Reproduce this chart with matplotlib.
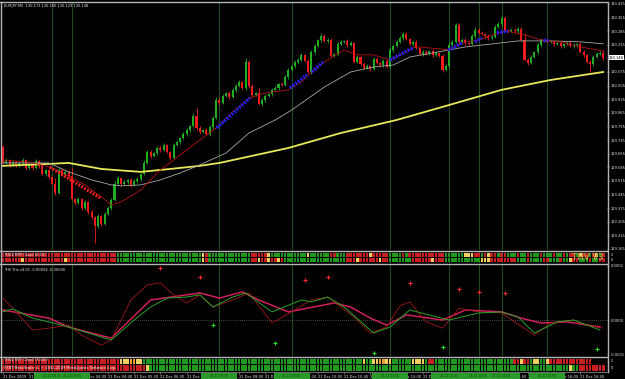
import matplotlib
matplotlib.use('Agg')
import matplotlib.pyplot as plt
from matplotlib.patches import Rectangle
import numpy as np

W, H = 625, 379
fig = plt.figure(figsize=(6.25, 3.79), dpi=100, facecolor='black')

def ax_at(x0, y0, x1, y1):
    a = fig.add_axes([x0 / W, 1 - y1 / H, (x1 - x0) / W, (y1 - y0) / H])
    a.set_facecolor('black')
    for s in a.spines.values():
        s.set_visible(False)
    a.tick_params(left=False, bottom=False, labelleft=False, labelbottom=False)
    return a

# ---------------- data ----------------
symbol_text = "EURJPY,M5  130.173 130.180 130.129 130.148"
first_open = 129.689
closes = [
 129.607,129.622,129.597,129.612,129.592,129.607,129.622,129.581,129.597,129.581,
 129.617,129.592,129.550,129.571,129.535,129.499,129.453,129.571,129.545,129.561,
 129.540,129.422,129.401,129.422,129.375,129.406,129.355,129.329,129.283,129.334,
 129.293,129.345,129.375,129.417,129.499,129.530,129.499,129.509,129.520,129.494,
 129.514,129.525,129.550,129.607,129.664,129.643,129.658,129.684,129.674,129.700,
 129.664,129.633,129.700,129.715,129.736,129.756,129.777,129.797,129.849,129.787,
 129.767,129.777,129.756,129.792,129.839,129.931,129.916,129.952,129.967,129.947,
 129.983,130.003,130.024,129.993,130.127,130.003,129.957,129.967,129.911,129.931,
 129.952,129.962,129.983,129.993,130.014,130.009,130.050,130.086,130.106,130.127,
 130.137,130.163,130.132,130.075,130.178,130.209,130.240,130.261,130.235,130.240,
 130.158,130.168,130.220,130.230,130.235,130.214,130.225,130.127,130.153,130.117,
 130.096,130.106,130.091,130.142,130.122,130.111,130.132,130.101,130.189,130.209,
 130.230,130.250,130.271,130.245,130.220,130.230,130.199,130.168,130.178,130.168,
 130.183,130.163,130.173,130.158,130.086,130.106,130.214,130.230,130.317,130.230,
 130.240,130.225,130.220,130.261,130.292,130.276,130.271,130.261,130.250,130.256,
 130.307,130.322,130.353,130.292,130.286,130.292,130.286,130.297,130.240,130.137,
 130.122,130.153,130.178,130.214,130.240,130.240,130.230,130.230,130.220,130.225,
 130.209,130.220,130.225,130.209,130.214,130.220,130.178,130.163,130.127,130.117,
 130.153,130.168,130.173,130.147]
upper_wick_pts = [
 10,8,6,10,5,8,10,5,8,6,10,5,8,6,5,6,31,15,6,8,
 8,41,5,10,6,10,5,8,6,10,5,8,10,8,15,10,6,8,5,10,
 8,10,5,15,10,8,6,10,8,10,5,6,10,8,5,10,8,6,15,41,
 8,6,10,8,10,15,10,8,6,10,8,10,8,5,20,10,8,6,25,8,
 10,6,8,10,6,8,10,8,6,10,8,10,6,8,10,8,6,15,8,10,
 8,6,10,8,6,10,8,5,10,6,8,10,6,10,8,6,10,8,15,10,
 8,10,8,10,6,8,10,6,8,10,6,8,10,6,8,10,15,8,10,10,
 8,10,6,8,15,10,8,6,10,8,10,8,15,10,6,8,10,8,10,35,
 8,10,6,10,8,6,10,8,6,10,8,6,10,8,10,6,8,10,6,10,
 8,10,8,15]
lower_wick_pts = [
 8,6,10,5,8,6,8,10,6,8,5,10,6,8,10,8,10,8,6,10,
 10,8,10,6,10,8,10,8,87,10,8,6,8,10,6,8,10,6,8,10,
 6,8,10,5,8,10,6,8,10,6,8,10,6,8,10,6,8,10,6,8,
 10,8,6,10,8,6,10,8,6,10,8,10,6,8,10,8,10,6,5,10,
 8,6,10,8,10,6,8,10,6,8,10,8,6,5,10,8,6,10,8,10,
 5,8,10,6,8,10,6,5,8,10,6,8,10,8,6,10,8,6,8,10,
 6,8,10,6,8,10,6,8,10,6,8,10,6,8,10,8,10,6,8,10,
 8,10,6,8,10,8,6,10,8,10,6,8,10,8,10,6,8,10,6,8,
 10,8,6,10,8,10,6,8,10,6,8,10,8,6,10,8,6,10,8,41,
 10,8,6,10]

# moving averages: (bar, price) points
ma_slow_bar = [0, 14, 20, 30, 42, 51, 60, 66, 87, 103, 120, 136, 152, 167, 183]
ma_slow_val = [129.592, 129.602, 129.607, 129.576, 129.561, 129.576, 129.592, 129.607,
               129.684, 129.761, 129.828, 129.905, 129.983, 130.034, 130.075]
ma_mid_bar = [0, 14, 20, 27, 33, 36, 42, 48, 54, 60, 68, 75, 83, 88, 98, 106, 113, 119,
              124, 131, 141, 152, 157, 167, 176, 183]
ma_mid_val = [129.607, 129.607, 129.561, 129.520, 129.494, 129.489, 129.494, 129.520,
              129.555, 129.597, 129.658, 129.761, 129.828, 129.879, 129.998, 130.075,
              130.101, 130.111, 130.152, 130.173, 130.204, 130.225, 130.235, 130.235,
              130.230, 130.220]
ma_fast_bar = [0, 8, 14, 20, 25, 30, 33, 36, 42, 48, 54, 60, 65, 70, 75, 80, 87, 91, 94,
               98, 104, 108, 113, 118, 121, 125, 127, 133, 136, 140, 145, 151, 154, 155,
               160, 164, 170, 176, 183]
ma_fast_val = [129.622, 129.612, 129.586, 129.540, 129.494, 129.432, 129.391, 129.406,
               129.468, 129.571, 129.648, 129.725, 129.787, 129.870, 129.941, 129.967,
               129.983, 130.024, 130.075, 130.127, 130.188, 130.163, 130.163, 130.137,
               130.163, 130.199, 130.204, 130.194, 130.188, 130.225, 130.240, 130.276,
               130.286, 130.281, 130.261, 130.240, 130.230, 130.204, 130.183]
# trend segments (start bar, start price, end bar, end price)
up_segments = [(65.2, 129.787, 75.3, 129.941), (87.5, 129.993, 92.7, 130.060),
               (94.2, 130.075, 97.6, 130.127), (118.0, 130.137, 125.0, 130.199),
               (135.7, 130.188, 140.0, 130.225), (143.9, 130.230, 146.0, 130.250),
               (150.6, 130.276, 154.0, 130.286), (164.6, 130.240, 166.2, 130.240)]
down_segments = [(14.3, 129.586, 29.6, 129.427)]

separator_bars = [15, 21, 66, 88, 118, 136, 145, 152, 166]
separator_text = ["21.12 03:15", "21.12 03:45", "21.12 07:30", "21.12 09:20", "21.12 11:50",
                  "21.12 13:20", "21.12 14:05", "21.12 14:40", "21.12 15:50"]

price_ticks = [130.425, 130.355, 130.285, 130.215, 130.145, 130.075, 130.005, 129.935,
               129.865, 129.795, 129.725, 129.655, 129.585, 129.515, 129.445, 129.375,
               129.305, 129.235, 129.165]
current_price = 130.148

# oscillator
trix_bar = [0, 2, 9, 14, 20, 24, 30, 33, 39, 44, 48, 52, 56, 60, 64, 70, 75, 82, 88, 94,
            99, 107, 112, 117, 121, 124, 129, 134, 139, 145, 152, 162, 167, 174, 178, 183]
trix_val = [8.1e-5, 5.6e-5, -3.7e-5, -3.0e-5, -1.9e-5, -5.6e-5, -9.3e-5, -7.4e-5, 7.4e-5,
            1.30e-4, 1.37e-4, 9.3e-5, 6.3e-5, 9.3e-5, 4.8e-5, 7.4e-5, 1.0e-4, -1.1e-5,
            3.0e-5, 7.4e-5, 8.5e-5, 1.1e-5, -4.8e-5, -2.6e-5, 5.2e-5, 6.7e-5, -7e-6,
            -3.0e-5, 4.4e-5, 3.0e-5, 2.6e-5, -5.6e-5, -1.1e-5, 0.0, -1.9e-5, -3.0e-5]
signal_bar = [0, 3, 9, 14, 20, 26, 33, 40, 45, 50, 56, 60, 64, 70, 74, 82, 91, 94, 99,
              104, 113, 118, 124, 136, 145, 152, 157, 162, 169, 174, 182]
signal_val = [3.0e-5, 4.1e-5, 7e-6, -7e-6, -2.6e-5, -4.8e-5, -7.4e-5, 0.0, 4.8e-5, 8.1e-5,
              8.5e-5, 9.3e-5, 4.8e-5, 8.5e-5, 1.0e-4, 3.0e-5, 7.4e-5, 6.7e-5, 8.5e-5,
              4.8e-5, -4.8e-5, -2.6e-5, 3.7e-5, 0.0, 2.6e-5, 3.0e-5, 1.1e-5, -4.8e-5,
              -7e-6, 0.0, -3.7e-5]
slow_bar = [0, 14, 20, 33, 45, 60, 66, 73, 78, 87, 101, 106, 112, 117, 123, 134, 141,
            152, 158, 164, 172, 182]
slow_val = [3.7e-5, 7e-6, -2.6e-5, -6.7e-5, 7.4e-5, 1.0e-4, 8.1e-5, 1.04e-4, 7.4e-5,
            3.0e-5, 6.3e-5, 4.8e-5, 7e-6, -1.9e-5, 1.9e-5, 0.0, 3.7e-5, 3.0e-5, 7e-6,
            -1.1e-5, -7e-6, -2.6e-5]
sell_bar = [48, 60, 92, 99, 124, 139, 145, 153]
sell_val = [1.92e-4, 1.59e-4, 1.48e-4, 1.59e-4, 1.37e-4, 1.15e-4, 1.04e-4, 1.0e-4]
buy_bar = [64, 83, 113, 134, 181]
buy_val = [-1.9e-5, -8.5e-5, -1.22e-4, -1.0e-4, -1.07e-4]
osc_title = "THV Trix v4.01 -0.00004 -0.00006"

# cloud strips: run-length (colour code, bars)
cloud1_row1 = [('r',35),('g',26),('y',1),('r',1),('g',13),('r',5),('y',1),('g',11),('y',1),
               ('g',6),('r',2),('g',3),('r',7),('y',1),('r',5),('g',3),('g',1),('r',1),('g',1),
               ('r',1),('r',10),('g',6),('y',3),('r',2),('g',1),('r',1),('y',1),('r',2),('g',1),
               ('r',2),('g',1),('g',2),('r',1),('g',2),('r',1),('g',3),('r',1),('g',3),('r',1),
               ('g',2),('r',1),('g',1),('r',2),('g',1),('y',1),('r',2),('g',1),('r',1),('y',1),
               ('g',1),('r',1)]
cloud1_row2 = [('r',6),('y',1),('r',12),('y',1),('r',15),('g',26),('y',1),('r',1),('g',13),
               ('r',2),('y',1),('r',2),('y',1),('r',2),('y',1),('r',1),('g',19),('r',3),('y',1),
               ('r',6),('y',1),('r',2),('g',7),('r',6),('y',1),('r',3),('g',11),('y',3),('r',8),
               ('g',3),('r',1),('g',4),('r',2),('g',3),('r',1),('g',2),('y',1),('r',2),('g',3),
               ('r',1),('g',2),('r',2)]
cloud2_row1 = [('r',36),('y',3),('o',2),('y',2),('g',67),('y',1),('g',2),('y',2),('o',2),
               ('y',2),('g',6),('y',4),('g',1),('r',2),('g',24),('r',2),('y',1),('r',2),('g',1),
               ('y',2),('g',2),('y',1),('r',13)]
cloud2_row2 = [('r',44),('y',1),('g',128),('y',1),('g',2),('r',8)]
cloud_colors = {'r': '#c82020', 'g': '#1f9a1f', 'y': '#f2d060', 'o': '#e8a030'}

# time axis
time_labels = ["21 Dec 2009", "21 Dec 02:40", "21 Dec 03:20", "21 Dec 04:00", "21 Dec 04:40",
               "21 Dec 05:20", "21 Dec 06:00", "21 Dec 06:40", "21 Dec 07:20", "21 Dec 08:00",
               "21 Dec 08:40", "21 Dec 09:20", "21 Dec 10:00", "21 Dec 10:40", "21 Dec 11:20",
               "21 Dec 12:00", "21 Dec 12:40", "21 Dec 13:20", "21 Dec 14:00", "21 Dec 14:40",
               "21 Dec 15:20", "21 Dec 16:00", "21 Dec 16:40"]
time_label_bars = [0, 8, 16, 24, 32, 40, 48, 56, 64, 72, 80, 88, 96, 104, 112, 120, 128,
                   136, 144, 152, 160, 168, 176]

# ---------------- drawing ----------------
N = len(closes)
xl = (-0.3, 184.15)
GREY = '#b4b4b4'
TXT = '#e6e6e6'
FS = 2.6
bull_c, bear_c = '#1fae1f', '#ee1c1c'
sep_c = '#1f4a1f'

def bar_px(b):
    return 2 + (b - xl[0]) / (xl[1] - xl[0]) * 605

# main chart
ax = ax_at(2, 3, 607, 250)
ax.set_xlim(*xl)
ax.set_ylim(129.159, 130.430)
opens = np.array([first_open] + closes[:-1])
cl = np.array(closes)
hi = np.maximum(opens, cl) + np.array(upper_wick_pts) * 0.001
lo = np.minimum(opens, cl) - np.array(lower_wick_pts) * 0.001
idx = np.arange(N)
cols = [bull_c if c >= o else bear_c for o, c in zip(opens, cl)]
for b in separator_bars:
    ax.axvline(b, color=sep_c, lw=0.8, zorder=0)
ax.vlines(idx, lo, hi, colors=cols, lw=0.6, zorder=2)
body_h = np.maximum(np.abs(cl - opens), 0.0015)
ax.bar(idx, body_h, bottom=np.minimum(opens, cl), width=0.62, color=cols, lw=0, zorder=3)
ax.plot(ma_slow_bar, ma_slow_val, color='#e8e85a', lw=1.3, zorder=4)
ax.plot(ma_mid_bar, ma_mid_val, color='#a8a8a8', lw=0.6, zorder=4)
ax.plot(ma_fast_bar, ma_fast_val, color='#b41414', lw=0.6, zorder=4)
for x0, y0, x1, y1 in up_segments:
    ax.plot([x0, x1], [y0, y1], color='#2020ff', lw=2.4, ls=(0, (0.6, 0.4)), zorder=5)
for x0, y0, x1, y1 in down_segments:
    ax.plot([x0, x1], [y0, y1], color='#ff2020', lw=2.2, ls=(0, (0.6, 0.5)), zorder=5)
ax.yaxis.tick_right()
ax.set_yticks(price_ticks)
ax.set_yticklabels([f"{p:.3f}" for p in price_ticks])
ax.tick_params(axis='y', right=True, labelright=True, length=1.5, width=0.4, color=GREY,
               labelsize=FS, labelcolor=TXT, pad=1)
ax.text(0.004, 0.995, symbol_text, transform=ax.transAxes, color=TXT, fontsize=FS,
        va='top', ha='left')
ax.annotate(f"{current_price:.3f}", xy=(1, current_price), xycoords=('axes fraction', 'data'),
            xytext=(1.5, 0), textcoords='offset points', fontsize=FS, color='black',
            va='center', ha='left',
            bbox=dict(boxstyle='square,pad=0.15', fc='white', ec='none'))

def draw_cloud(a, rows):
    a.set_xlim(*xl)
    a.set_ylim(0, 2)
    for r, rle in enumerate(rows):
        codes = ''.join(c * n for c, n in rle)[:N]
        a.bar(np.arange(len(codes)), 0.78, bottom=1.1 if r == 0 else 0.12,
              width=0.78, color=[cloud_colors[c] for c in codes], lw=0)
    for b in separator_bars:
        a.axvline(b, color=sep_c, lw=0.8, zorder=0)

# cloud strip 1
c1 = ax_at(2, 252, 607, 262.5)
draw_cloud(c1, [cloud1_row1, cloud1_row2])
c1.text(0.004, 0.75, "THV4 MTF Cloud (8,15)", transform=c1.transAxes, color=TXT, fontsize=FS,
        va='center', ha='left')
c1.text(0.995, 0.5, "THV V3", transform=c1.transAxes, color='#c8a040', fontsize=5.5,
        fontweight='bold', va='center', ha='right', alpha=0.9)
fig.text(611 / W, 1 - 254.5 / H, "2", color=TXT, fontsize=FS, va='center')
fig.text(611 / W, 1 - 260 / H, "0", color=TXT, fontsize=FS, va='center')

# oscillator
o = ax_at(2, 264, 607, 356)
o.set_xlim(*xl)
o.set_ylim(-1.33e-4, 2.07e-4)
for b in separator_bars:
    o.axvline(b, color=sep_c, lw=0.8, zorder=0)
o.axhline(0, color='#8a8a8a', lw=0.5, ls=(0, (1, 2)), zorder=1)
o.plot(slow_bar, slow_val, color='#d0205a', lw=1.1, zorder=3)
o.plot(trix_bar, trix_val, color='#a01818', lw=0.6, zorder=3)
o.plot(signal_bar, signal_val, color='#2aa02a', lw=0.7, zorder=4)
o.scatter(sell_bar, sell_val, marker='+', color='#ff2a2a', s=7, lw=0.8, zorder=5)
o.scatter(buy_bar, buy_val, marker='+', color='#30e030', s=7, lw=0.8, zorder=5)
o.text(0.004, 0.955, osc_title, transform=o.transAxes, color=TXT, fontsize=FS, va='top')
o.yaxis.tick_right()
o.set_yticks([2.0e-4, 0.0, -1.26e-4])
o.set_yticklabels(["0.0002", "0.0000", "-0.0001"])
o.tick_params(axis='y', right=True, labelright=True, length=1.5, width=0.4, color=GREY,
              labelsize=FS, labelcolor=TXT, pad=1)

# cloud strip 2 + time axis
c2 = ax_at(2, 358, 607, 371.5)
draw_cloud(c2, [cloud2_row1, cloud2_row2])
c2.text(0.004, 0.85, "THV4 MTF Cloud (30,60)", transform=c2.transAxes, color=TXT,
        fontsize=FS, va='center', ha='left')
c2.text(0.004, 0.28, "FXBT MetaTrader 4, \u00a9 2001-2009 MetaQuotes Software Corp.",
        transform=c2.transAxes, color='white', fontsize=FS, va='center', ha='left')
fig.text(611 / W, 1 - 361 / H, "2", color=TXT, fontsize=FS, va='center')
fig.text(611 / W, 1 - 368 / H, "0", color=TXT, fontsize=FS, va='center')
c2.set_xticks(time_label_bars)
c2.set_xticklabels(time_labels)
c2.tick_params(axis='x', bottom=True, labelbottom=True, length=1.5, width=0.4, color=GREY,
               labelsize=FS, labelcolor=TXT, pad=0.8)
for t in c2.get_xticklabels():
    t.set_ha('left')
# separator labels in time axis (green boxes)
for b, s in zip(separator_bars, separator_text):
    px = bar_px(b)
    fig.add_artist(Rectangle(((px - 18) / W, 1 - 378.5 / H), 36 / W, 5.5 / H,
                             facecolor='#2a9a2a', edgecolor='none', zorder=5))
    fig.text(px / W, 1 - 375.8 / H, s, ha='center', va='center', fontsize=2.2,
             color='#0d3d0d', zorder=6)

# frame lines
def hline(y, x0=0, x1=607, c=GREY, lw=1.0):
    fig.add_artist(plt.Line2D([x0 / W, x1 / W], [1 - y / H, 1 - y / H], color=c, lw=lw))
def vline(x, y0=0, y1=379, c=GREY, lw=1.0):
    fig.add_artist(plt.Line2D([x / W, x / W], [1 - y0 / H, 1 - y1 / H], color=c, lw=lw))
hline(1.5)
vline(1.0, 1.5, 372)
vline(607.5, 1.5, 372)
hline(251)
hline(263.5)
hline(357)
hline(372, c='#808080', lw=0.6)

fig.savefig('out.png', dpi=100, facecolor='black')
